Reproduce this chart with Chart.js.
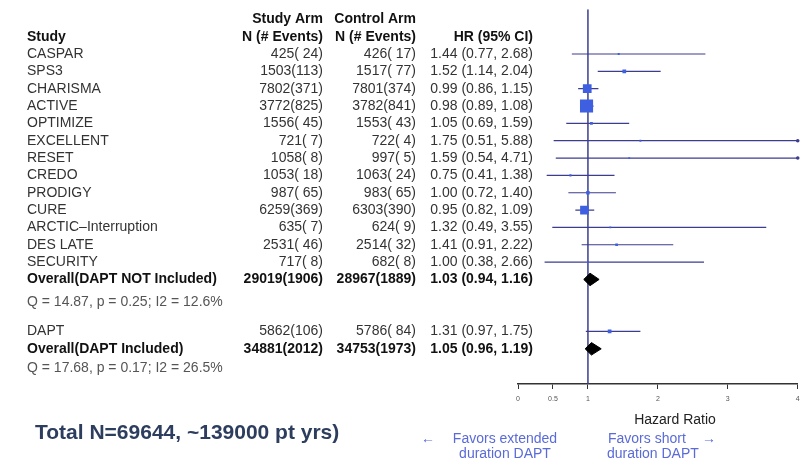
<!DOCTYPE html>
<html lang="en">
<head>
  <meta charset="UTF-8">
  <title>DAPT duration forest plot</title>
  <script src="https://cdn.jsdelivr.net/npm/chart.js"></script>
  <style>
    body {
      margin: 0;
      background: #fff;
    }
    #forest {
      display: block;
    }
  </style>
</head>
<body>
  <canvas id="forest" width="807" height="465"></canvas>

  <script>
    // studies, in table order (DAPT sits below the first pooled estimate)
    const studies = ['CASPAR', 'SPS3', 'CHARISMA', 'ACTIVE', 'OPTIMIZE', 'EXCELLENT', 'RESET',
      'CREDO', 'PRODIGY', 'CURE', 'ARCTIC\u2013Interruption', 'DES LATE', 'SECURITY', 'DAPT'];
    const studyRows = [0, 1, 2, 3, 4, 5, 6, 7, 8, 9, 10, 11, 12, 16];
    const studyArm = ['425( 24)', '1503(113)', '7802(371)', '3772(825)', '1556( 45)', '721( 7)', '1058( 8)',
      '1053( 18)', '987( 65)', '6259(369)', '635( 7)', '2531( 46)', '717( 8)', '5862(106)'];
    const controlArm = ['426( 17)', '1517( 77)', '7801(374)', '3782(841)', '1553( 43)', '722( 4)', '997( 5)',
      '1063( 24)', '983( 65)', '6303(390)', '624( 9)', '2514( 32)', '682( 8)', '5786( 84)'];
    const hr = [1.44, 1.52, 0.99, 0.98, 1.05, 1.75, 1.59, 0.75, 1.00, 0.95, 1.32, 1.41, 1.00, 1.31];
    const lo = [0.77, 1.14, 0.86, 0.89, 0.69, 0.51, 0.54, 0.41, 0.72, 0.82, 0.49, 0.91, 0.38, 0.97];
    const hi = [2.68, 2.04, 1.15, 1.08, 1.59, 5.88, 4.71, 1.38, 1.40, 1.09, 3.55, 2.22, 2.66, 1.75];
    // approximate study weights (%)
    const weights = [1.0, 3.5, 19.4, 43.8, 2.0, 0.3, 0.4, 1.1, 3.0, 19.0, 0.4, 1.8, 0.4, 3.5];

    // pooled estimates
    const overallLabels = ['Overall(DAPT NOT Included)', 'Overall(DAPT Included)'];
    const overallRows = [13, 17];
    const overallStudy = ['29019(1906)', '34881(2012)'];
    const overallControl = ['28967(1889)', '34753(1973)'];
    const overallHr = [1.03, 1.05];
    const overallLo = [0.94, 0.96];
    const overallHi = [1.16, 1.19];
    const hetText = ['Q = 14.87, p = 0.25; I2 = 12.6%', 'Q = 17.68, p = 0.17; I2 = 26.5%'];
    const hetRows = [14.3, 18.1];

    const xTicks = [0, 0.5, 1, 2, 3, 4];
    const xMin = 0, xMax = 4;
    const rowMin = -2.58, rowMax = 19.03;

    const NAVY = '#3d3d90';
    const BOX = '#3d5fe0';
    const TEXT = '#333';
    const FONT = '"Liberation Sans", Arial, sans-serif';

    const fmt = v => v.toFixed(2);

    // CI segments, one small dataset per study
    const ciSets = studies.map((s, i) => ({
      type: 'scatter',
      label: s,
      data: [{ x: lo[i], y: studyRows[i] }, { x: hi[i], y: studyRows[i] }],
      showLine: true,
      borderColor: NAVY,
      borderWidth: 1.2,
      pointRadius: 0,
      order: 3
    }));

    // little end marks where the CI runs past the axis
    const clipped = [];
    studies.forEach((s, i) => {
      if (hi[i] > xMax) clipped.push({ x: xMax, y: studyRows[i] });
    });

    const diamondSets = overallHr.map((h, i) => ({
      type: 'scatter',
      label: overallLabels[i],
      data: [
        { x: overallLo[i], y: overallRows[i] },
        { x: h, y: overallRows[i] - 0.36 },
        { x: overallHi[i], y: overallRows[i] },
        { x: h, y: overallRows[i] + 0.36 },
        { x: overallLo[i], y: overallRows[i] }
      ],
      showLine: true,
      fill: 'shape',
      backgroundColor: '#000',
      borderColor: '#000',
      borderWidth: 1,
      pointRadius: 0,
      order: 1
    }));

    const tablePlugin = {
      id: 'table',
      afterDraw(chart) {
        const ctx = chart.ctx;
        const y = chart.scales.y;
        const px = r => y.getPixelForValue(r);
        ctx.save();
        ctx.textBaseline = 'middle';

        const put = (txt, x, row, align, bold, color) => {
          ctx.font = (bold ? 'bold ' : '') + '14px ' + FONT;
          ctx.fillStyle = color || TEXT;
          ctx.textAlign = align;
          ctx.fillText(txt, x, px(row));
        };

        // headers
        put('Study Arm', 323, -2, 'right', true, '#111');
        put('Control Arm', 416, -2, 'right', true, '#111');
        put('Study', 27, -1, 'left', true, '#111');
        put('N (# Events)', 323, -1, 'right', true, '#111');
        put('N (# Events)', 416, -1, 'right', true, '#111');
        put('HR (95% CI)', 533, -1, 'right', true, '#111');

        studies.forEach((s, i) => {
          const r = studyRows[i];
          put(s, 27, r, 'left', false);
          put(studyArm[i], 323, r, 'right', false);
          put(controlArm[i], 416, r, 'right', false);
          put(`${fmt(hr[i])} (${fmt(lo[i])}, ${fmt(hi[i])})`, 533, r, 'right', false);
        });

        overallLabels.forEach((s, i) => {
          const r = overallRows[i];
          put(s, 27, r, 'left', true, '#111');
          put(overallStudy[i], 323, r, 'right', true, '#111');
          put(overallControl[i], 416, r, 'right', true, '#111');
          put(`${fmt(overallHr[i])} (${fmt(overallLo[i])}, ${fmt(overallHi[i])})`, 533, r, 'right', true, '#111');
          put(hetText[i], 27, hetRows[i], 'left', false, '#555');
        });

        // axis caption and direction notes
        ctx.textAlign = 'center';
        ctx.fillStyle = '#222';
        ctx.font = '14px ' + FONT;
        ctx.fillText('Hazard Ratio', 675, 420);

        ctx.fillStyle = '#5a6bd8';
        ctx.fillText('Favors extended', 505, 439);
        ctx.fillText('duration DAPT', 505, 454);
        ctx.fillText('\u2190', 428, 439);
        ctx.textAlign = 'left';
        ctx.fillText('Favors short', 608, 439);
        ctx.fillText('duration DAPT', 607, 454);
        ctx.fillText('\u2192', 702, 439);

        ctx.fillStyle = '#2d3d5e';
        ctx.font = 'bold 21px ' + FONT;
        ctx.fillText('Total N=69644, ~139000 pt yrs)', 35, 433);
        ctx.restore();
      }
    };

    new Chart(document.getElementById('forest'), {
      type: 'scatter',
      data: {
        datasets: [
          {
            type: 'scatter',
            label: 'no effect',
            data: [{ x: 1, y: rowMin }, { x: 1, y: rowMax }],
            showLine: true,
            borderColor: NAVY,
            borderWidth: 1.5,
            pointRadius: 0,
            order: 4
          },
          ...ciSets,
          {
            type: 'scatter',
            label: 'studies',
            data: studies.map((s, i) => ({ x: hr[i], y: studyRows[i] })),
            pointStyle: 'rect',
            pointRadius: weights.map(w => Math.max(1.3, 1.4 * Math.sqrt(w))),
            backgroundColor: BOX,
            borderColor: BOX,
            borderWidth: 0,
            order: 2
          },
          {
            type: 'scatter',
            label: 'clipped',
            data: clipped,
            pointRadius: 1.8,
            backgroundColor: NAVY,
            borderWidth: 0,
            clip: 4,
            order: 2
          },
          ...diamondSets
        ]
      },
      options: {
        responsive: false,
        animation: false,
        layout: { padding: { left: 518, right: 2, top: 7, bottom: 0 } },
        plugins: {
          legend: { display: false },
          tooltip: { enabled: false }
        },
        scales: {
          x: {
            type: 'linear',
            min: xMin,
            max: xMax,
            afterBuildTicks: scale => {
              scale.ticks = xTicks.map(v => ({ value: v }));
            },
            afterFit: scale => {
              scale.height = 81;
            },
            ticks: {
              callback: v => String(v),
              font: { size: 7, family: FONT },
              color: '#555',
              padding: 6,
              maxRotation: 0
            },
            grid: {
              drawOnChartArea: false,
              tickLength: 5,
              color: '#333'
            },
            border: { color: '#333', width: 1.5 }
          },
          y: {
            type: 'linear',
            display: false,
            reverse: true,
            min: rowMin,
            max: rowMax
          }
        }
      },
      plugins: [tablePlugin]
    });
  </script>
</body>
</html>
